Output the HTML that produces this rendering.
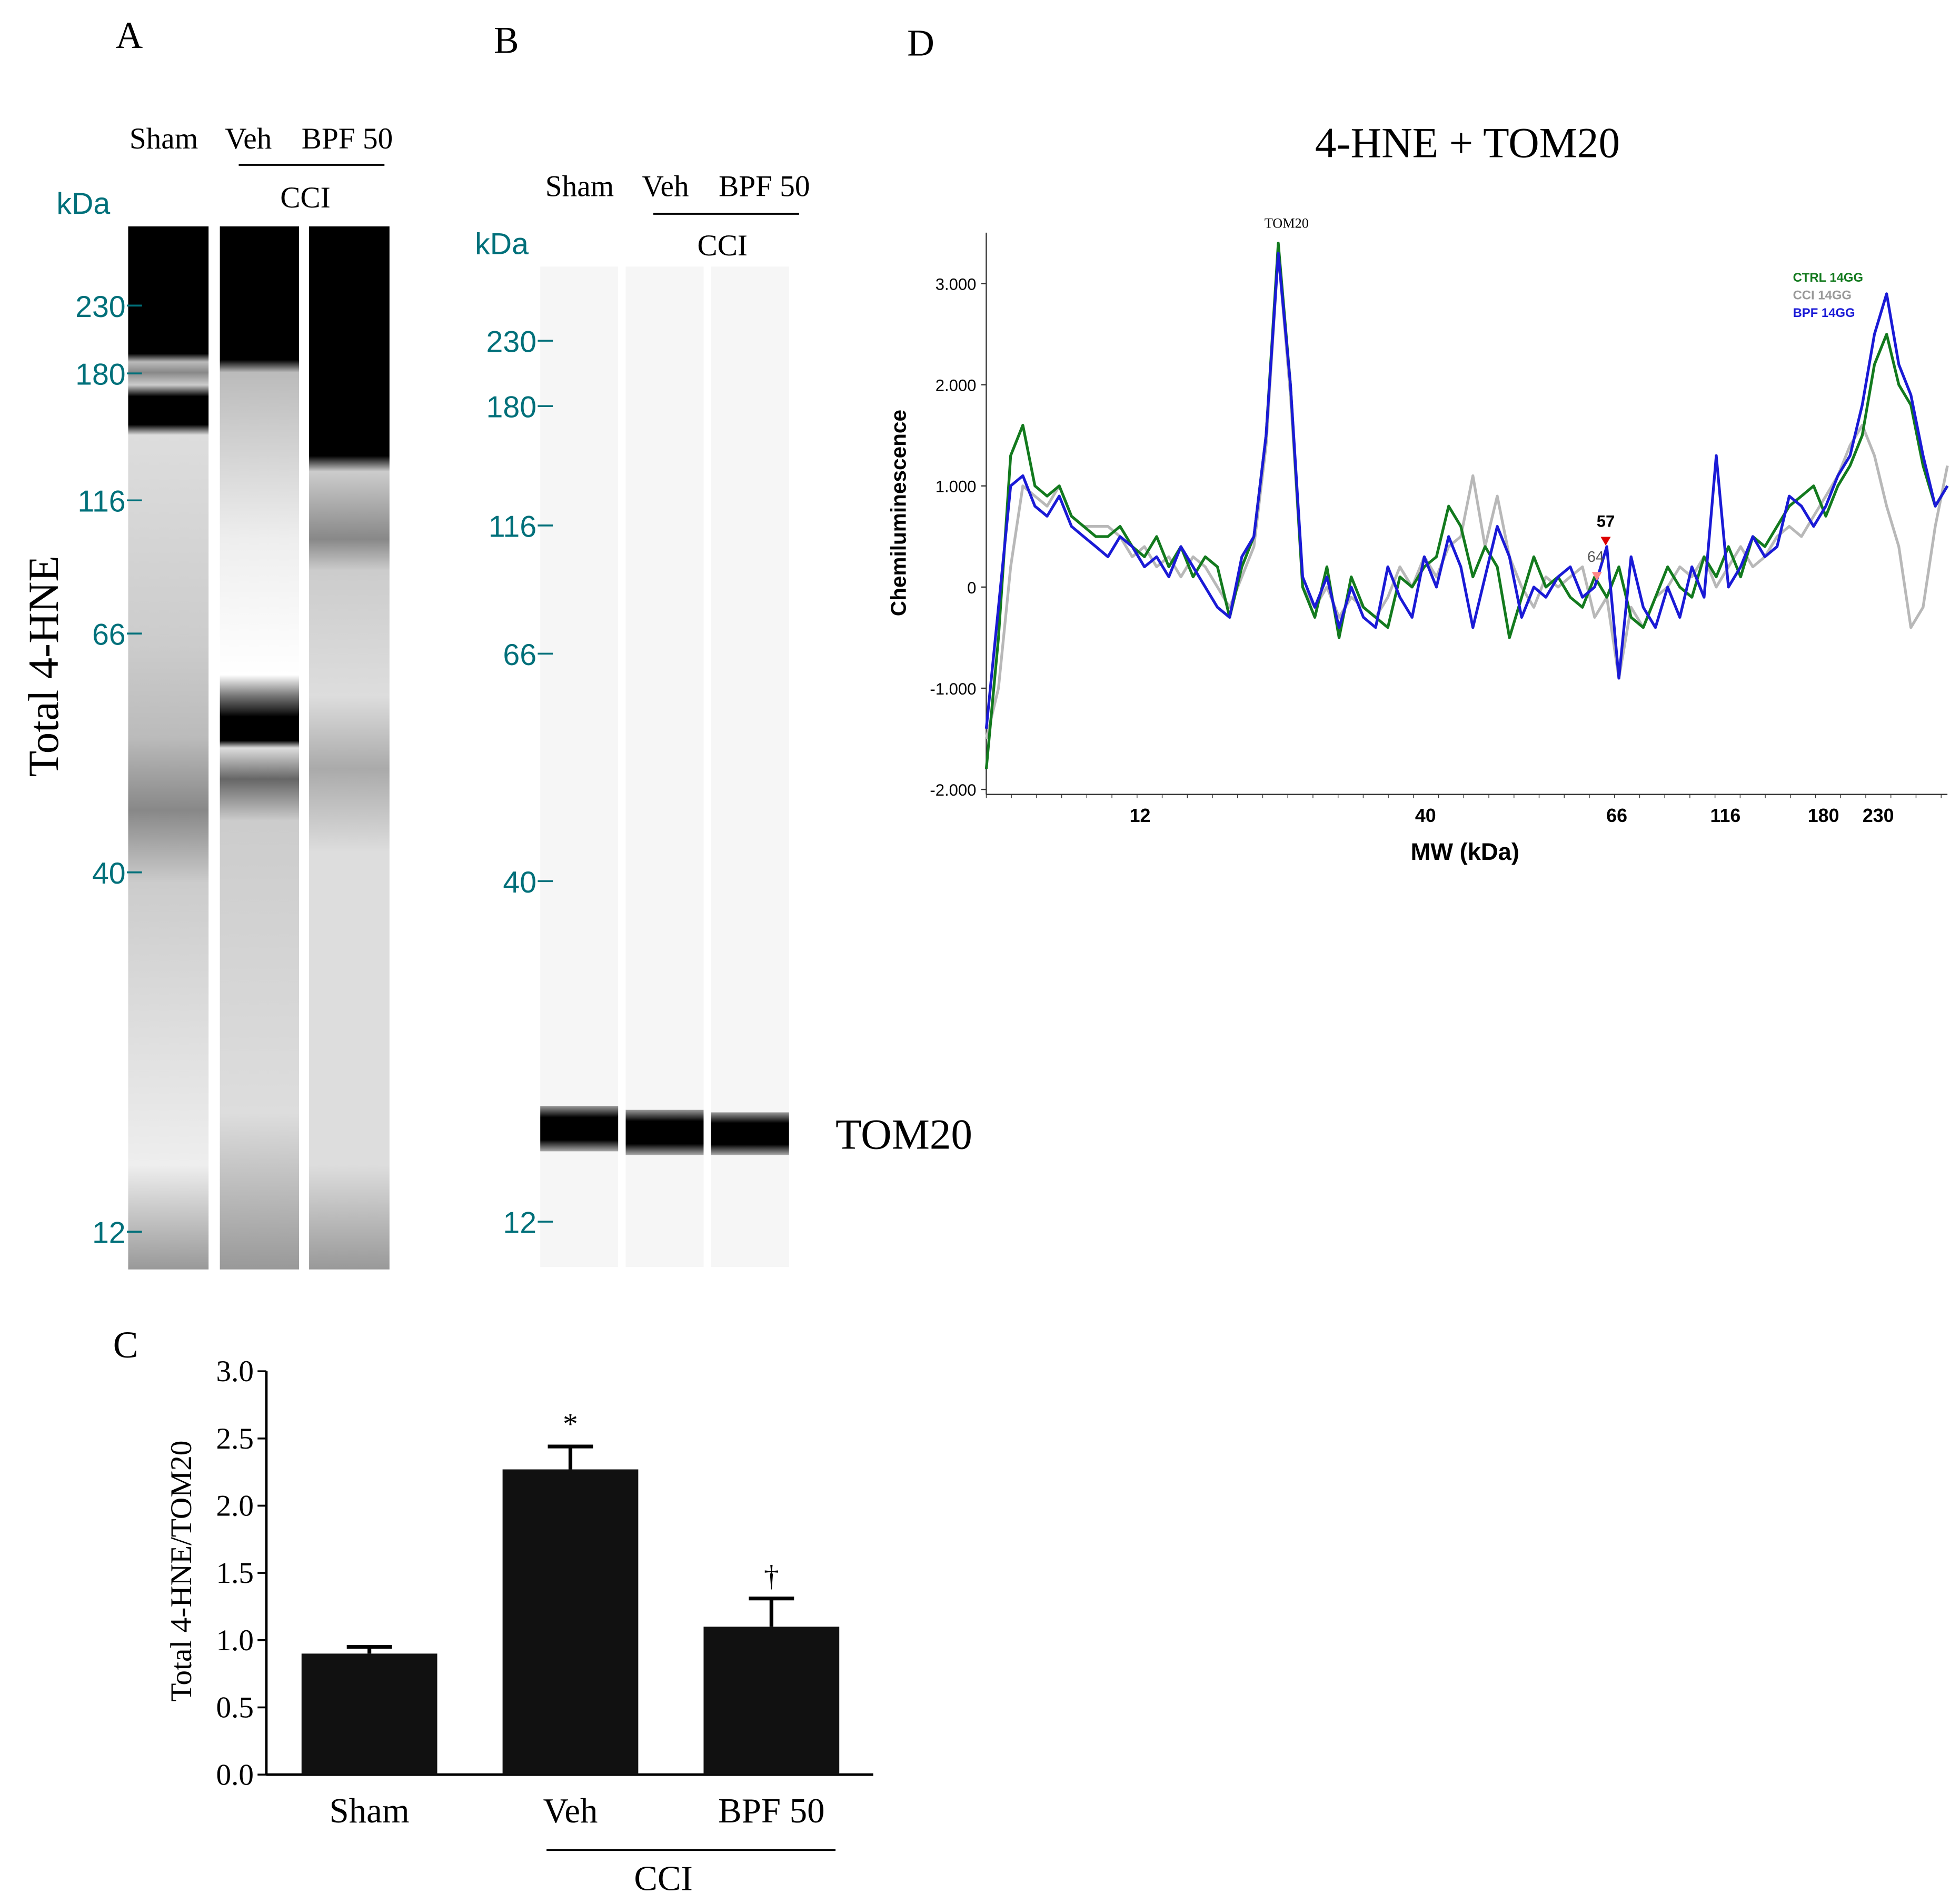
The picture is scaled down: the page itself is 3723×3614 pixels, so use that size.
<!DOCTYPE html>
<html><head><meta charset="utf-8"><style>
html,body{margin:0;padding:0;background:#fff}
svg{display:block}
text{font-family:"Liberation Serif",serif}
.sans, .sans text{font-family:"Liberation Sans",sans-serif}
</style></head><body>
<svg id="fig" width="3723" height="3614" viewBox="0 0 1560 1514" xmlns="http://www.w3.org/2000/svg">
<defs>
<linearGradient id="g1" x1="0" y1="0" x2="0" y2="1">
<stop offset="0" stop-color="#000"/><stop offset="0.122" stop-color="#000"/><stop offset="0.13" stop-color="#bbb"/><stop offset="0.14" stop-color="#888"/><stop offset="0.152" stop-color="#ccc"/><stop offset="0.163" stop-color="#000"/><stop offset="0.19" stop-color="#000"/><stop offset="0.2" stop-color="#ddd"/><stop offset="0.4" stop-color="#ccc"/><stop offset="0.49" stop-color="#bbb"/><stop offset="0.56" stop-color="#888"/><stop offset="0.63" stop-color="#ccc"/><stop offset="0.9" stop-color="#eee"/><stop offset="1" stop-color="#999"/></linearGradient>
<linearGradient id="g2" x1="0" y1="0" x2="0" y2="1">
<stop offset="0" stop-color="#000"/><stop offset="0.128" stop-color="#000"/><stop offset="0.14" stop-color="#bbb"/><stop offset="0.3" stop-color="#eee"/><stop offset="0.43" stop-color="#fff"/><stop offset="0.45" stop-color="#777"/><stop offset="0.465" stop-color="#222"/><stop offset="0.47" stop-color="#000"/><stop offset="0.493" stop-color="#000"/><stop offset="0.5" stop-color="#ddd"/><stop offset="0.53" stop-color="#666"/><stop offset="0.57" stop-color="#ccc"/><stop offset="0.85" stop-color="#ddd"/><stop offset="1" stop-color="#999"/></linearGradient>
<linearGradient id="g3" x1="0" y1="0" x2="0" y2="1">
<stop offset="0" stop-color="#000"/><stop offset="0.22" stop-color="#000"/><stop offset="0.235" stop-color="#ccc"/><stop offset="0.3" stop-color="#888"/><stop offset="0.33" stop-color="#ccc"/><stop offset="0.45" stop-color="#ddd"/><stop offset="0.52" stop-color="#aaa"/><stop offset="0.6" stop-color="#ddd"/><stop offset="0.9" stop-color="#ddd"/><stop offset="1" stop-color="#999"/></linearGradient>
<linearGradient id="band" x1="0" y1="0" x2="0" y2="1">
<stop offset="0" stop-color="#999"/><stop offset="0.25" stop-color="#000"/><stop offset="0.75" stop-color="#000"/><stop offset="1" stop-color="#aaa"/></linearGradient>
</defs>

<text x="92" y="38" font-size="30">A</text>
<text x="393" y="42" font-size="30">B</text>
<text x="722" y="44" font-size="30">D</text>
<text x="90" y="1080" font-size="30">C</text>

<g>
<text x="103" y="118" font-size="24">Sham</text>
<text x="179" y="118" font-size="24">Veh</text>
<text x="240" y="118" font-size="24">BPF 50</text>
<line x1="190" y1="131" x2="306" y2="131" stroke="#000" stroke-width="1.5"/>
<text x="243" y="165" font-size="24" text-anchor="middle">CCI</text>
<text x="45" y="170" font-size="24" fill="#00707a" class="sans">kDa</text>
<rect x="102" y="180" width="64" height="830" fill="url(#g1)"/>
<rect x="175" y="180" width="63" height="830" fill="url(#g2)"/>
<rect x="246" y="180" width="64" height="830" fill="url(#g3)"/>
<g fill="#00707a" font-size="24" class="sans" text-anchor="end">
<text x="100" y="252">230</text><text x="100" y="306">180</text><text x="100" y="407">116</text><text x="100" y="513">66</text><text x="100" y="703">40</text><text x="100" y="989">12</text>
</g>
<g stroke="#00707a" stroke-width="1.5">
<line x1="101" y1="243" x2="113" y2="243"/><line x1="101" y1="297" x2="113" y2="297"/><line x1="101" y1="398" x2="113" y2="398"/><line x1="101" y1="504" x2="113" y2="504"/><line x1="101" y1="694" x2="113" y2="694"/><line x1="101" y1="980" x2="113" y2="980"/>
</g>
<text transform="translate(46,530) rotate(-90)" font-size="34" text-anchor="middle">Total 4-HNE</text>
</g>

<g>
<text x="434" y="156" font-size="24">Sham</text>
<text x="511" y="156" font-size="24">Veh</text>
<text x="572" y="156" font-size="24">BPF 50</text>
<line x1="520" y1="170" x2="636" y2="170" stroke="#000" stroke-width="1.5"/>
<text x="575" y="203" font-size="24" text-anchor="middle">CCI</text>
<text x="378" y="202" font-size="24" fill="#00707a" class="sans">kDa</text>
<rect x="430" y="212" width="62" height="796" fill="#f6f6f6"/>
<rect x="498" y="212" width="62" height="796" fill="#f6f6f6"/>
<rect x="566" y="212" width="62" height="796" fill="#f6f6f6"/>
<rect x="430" y="880" width="62" height="36" fill="url(#band)"/>
<rect x="498" y="883" width="62" height="36" fill="url(#band)"/>
<rect x="566" y="885" width="62" height="34" fill="url(#band)"/>
<g fill="#00707a" font-size="24" class="sans" text-anchor="end">
<text x="427" y="280">230</text><text x="427" y="332">180</text><text x="427" y="427">116</text><text x="427" y="529">66</text><text x="427" y="710">40</text><text x="427" y="981">12</text>
</g>
<g stroke="#00707a" stroke-width="1.5">
<line x1="428" y1="271" x2="440" y2="271"/><line x1="428" y1="323" x2="440" y2="323"/><line x1="428" y1="418" x2="440" y2="418"/><line x1="428" y1="520" x2="440" y2="520"/><line x1="428" y1="701" x2="440" y2="701"/><line x1="428" y1="972" x2="440" y2="972"/>
</g>
<text x="665" y="914" font-size="34">TOM20</text>
</g>

<g id="panelC"></g>
<g id="panelD"></g>
</svg>
<script>
const NS="http://www.w3.org/2000/svg";
function el(parent,tag,attrs,txt){const e=document.createElementNS(NS,tag);for(const k in attrs)e.setAttribute(k,attrs[k]);if(txt!==undefined)e.textContent=txt;parent.appendChild(e);return e;}

const cCategories=["Sham","Veh","BPF 50"];
const cValues=[0.90,2.27,1.10];
const cErrors=[0.05,0.17,0.21];
const cTicks=[0,0.5,1.0,1.5,2.0,2.5,3.0];
const cMarks=["","*","†"];

const dCtrl=[-1.8,-0.5,1.3,1.6,1.0,0.9,1.0,0.7,0.6,0.5,0.5,0.6,0.4,0.3,0.5,0.2,0.4,0.1,0.3,0.2,-0.3,0.2,0.5,1.5,3.4,2.0,0.0,-0.3,0.2,-0.5,0.1,-0.2,-0.3,-0.4,0.1,0.0,0.2,0.3,0.8,0.6,0.1,0.4,0.2,-0.5,-0.1,0.3,0.0,0.1,-0.1,-0.2,0.1,-0.1,0.2,-0.3,-0.4,-0.1,0.2,0.0,-0.1,0.3,0.1,0.4,0.1,0.5,0.4,0.6,0.8,0.9,1.0,0.7,1.0,1.2,1.5,2.2,2.5,2.0,1.8,1.2,0.8,1.0];
const dCci=[-1.5,-1.0,0.2,1.0,0.9,0.8,1.0,0.7,0.6,0.6,0.6,0.5,0.3,0.4,0.2,0.3,0.1,0.3,0.2,0.0,-0.2,0.1,0.4,1.4,3.3,1.9,0.0,-0.2,0.0,-0.3,-0.1,-0.2,-0.3,-0.1,0.2,0.0,0.3,0.1,0.4,0.5,1.1,0.4,0.9,0.3,0.0,-0.2,0.1,0.0,0.1,0.2,-0.3,-0.1,-0.9,-0.2,-0.4,-0.1,0.0,0.2,0.1,0.3,0.0,0.2,0.4,0.2,0.3,0.5,0.6,0.5,0.7,0.9,1.1,1.4,1.6,1.3,0.8,0.4,-0.4,-0.2,0.6,1.2];
const dBpf=[-1.4,-0.2,1.0,1.1,0.8,0.7,0.9,0.6,0.5,0.4,0.3,0.5,0.4,0.2,0.3,0.1,0.4,0.2,0.0,-0.2,-0.3,0.3,0.5,1.5,3.3,2.0,0.1,-0.2,0.1,-0.4,0.0,-0.3,-0.4,0.2,-0.1,-0.3,0.3,0.0,0.5,0.2,-0.4,0.1,0.6,0.3,-0.3,0.0,-0.1,0.1,0.2,-0.1,0.0,0.4,-0.9,0.3,-0.2,-0.4,0.0,-0.3,0.2,-0.1,1.3,0.0,0.2,0.5,0.3,0.4,0.9,0.8,0.6,0.8,1.1,1.3,1.8,2.5,2.9,2.2,1.9,1.3,0.8,1.0];
const dYTicks=[-2,-1,0,1,2,3];
const dYTickLabels=["-2.000","-1.000","0","1.000","2.000","3.000"];
const dXTickLabels=["12","40","66","116","180","230"];
const dXTickFrac=[0.16,0.457,0.656,0.769,0.871,0.928];

(function(){
const g=document.getElementById('panelC');
const x0=212,yBase=1412,pxPerUnit=107,xEnd=695;
const y=v=>yBase-v*pxPerUnit;
const barW=108,barStep=160,barStart=240;
const bx=i=>barStart+i*barStep;
el(g,'line',{x1:x0,y1:y(3.0),x2:x0,y2:yBase,stroke:'#000','stroke-width':2});
el(g,'line',{x1:x0,y1:yBase,x2:xEnd,y2:yBase,stroke:'#000','stroke-width':2});
cTicks.forEach(t=>{
 el(g,'line',{x1:x0-7,y1:y(t),x2:x0,y2:y(t),stroke:'#000','stroke-width':1.5});
 const tl=el(g,'text',{x:x0-10,y:y(t)+8,'font-size':24,'text-anchor':'end'},t.toFixed(1));
 
 
});
const yt=el(g,'text',{transform:'translate(152,1250) rotate(-90)','font-size':24,'text-anchor':'middle'},'Total 4-HNE/TOM20');


cCategories.forEach((c,i)=>{
 const cx=bx(i)+barW/2;
 const top=y(cValues[i]+cErrors[i]);
 el(g,'line',{x1:cx,y1:top,x2:cx,y2:y(cValues[i]),stroke:'#000','stroke-width':3});
 el(g,'line',{x1:cx-18,y1:top,x2:cx+18,y2:top,stroke:'#000','stroke-width':3});
 const r=el(g,'rect',{x:bx(i),y:y(cValues[i]),width:barW,height:cValues[i]*pxPerUnit,fill:'#111'});
 
 
 const l=el(g,'text',{x:cx,y:1450,'font-size':28,'text-anchor':'middle'},c);
 
 
 if(cMarks[i]){el(g,'text',{x:cx,y:top-10,'font-size':24,'text-anchor':'middle'},cMarks[i]);}
});
el(g,'line',{x1:435,y1:1472,x2:665,y2:1472,stroke:'#000','stroke-width':1.5});
el(g,'text',{x:528,y:1504,'font-size':28,'text-anchor':'middle'},'CCI');
})();

(function(){
const g=document.getElementById('panelD');
const xL=785,xR=1550,y0=467,ppu=80.5;
const y=v=>y0-v*ppu;
const xf=f=>xL+f*(xR-xL);
el(g,'text',{x:1168,y:125,'font-size':34,'text-anchor':'middle'},'4-HNE + TOM20');
el(g,'line',{x1:xL,y1:185,x2:xL,y2:632,stroke:'#333','stroke-width':1});
el(g,'line',{x1:xL,y1:632,x2:xR,y2:632,stroke:'#333','stroke-width':1});
dYTicks.forEach((t,i)=>{
 el(g,'line',{x1:xL-4,y1:y(t),x2:xL,y2:y(t),stroke:'#333'});
 const tl=el(g,'text',{x:xL-8,y:y(t)+5,'font-size':13,'text-anchor':'end','class':'sans'},dYTickLabels[i]);
 
 
});
dXTickLabels.forEach((t,i)=>{
 const tl=el(g,'text',{x:xf(dXTickFrac[i]),y:654,'font-size':15,'text-anchor':'middle','class':'sans','font-weight':'bold'},t);
 
 
});
for(let k=0;k<40;k++){el(g,'line',{x1:xL+k*20,y1:632,x2:xL+k*20,y2:635,stroke:'#333','stroke-width':0.6});}
const xt=el(g,'text',{x:1166,y:684,'font-size':19,'text-anchor':'middle','class':'sans','font-weight':'bold'},'MW (kDa)');


const ytt=el(g,'text',{transform:'translate(721,408) rotate(-90)','font-size':17,'text-anchor':'middle','class':'sans','font-weight':'bold'},'Chemiluminescence');


const series=[[dCci,'#b8b8b8','cci-line'],[dCtrl,'#137a1e','ctrl-line'],[dBpf,'#1a1ad6','bpf-line']];
series.forEach(([arr,col,name])=>{
 const n=arr.length;
 const pts=arr.map((v,i)=>(xL+i*(xR-xL)/(n-1)).toFixed(1)+','+y(v).toFixed(1)).join(' ');
 const p=el(g,'polyline',{points:pts,fill:'none',stroke:col,'stroke-width':2.2,'stroke-linejoin':'round'});
 
 
});
el(g,'text',{x:1024,y:181,'font-size':11,'text-anchor':'middle'},'TOM20');
el(g,'text',{x:1278,y:419,'font-size':13,'text-anchor':'middle','class':'sans','font-weight':'bold'},'57');
el(g,'polygon',{points:'1274,427 1282,427 1278,434',fill:'#d00'});
el(g,'text',{x:1270,y:447,'font-size':12,'text-anchor':'middle','class':'sans','fill':'#555'},'64');
el(g,'polygon',{points:'1267,455 1275,455 1271,462',fill:'#f88'});
const leg=[['CTRL 14GG','#137a1e',224],['CCI 14GG','#999',238],['BPF 14GG','#1a1ad6',252]];
leg.forEach(([t,c,yy])=>{
 const le=el(g,'text',{x:1427,y:yy,'font-size':10,'class':'sans','font-weight':'bold',fill:c},t);
 
 
});
})();
</script>
</body></html>
